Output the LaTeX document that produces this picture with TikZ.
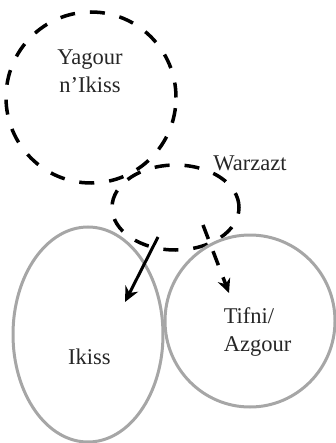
\documentclass[tikz,border=0pt]{standalone}
\usepackage{fontspec}
\setmainfont{Liberation Serif}
\usetikzlibrary{shapes.geometric,arrows.meta}

\tikzset{
  zone/.style={draw=black!35, line width=3pt, ellipse, inner sep=0pt},
  dzone/.style={draw=black, line width=3.5pt, dash pattern=on 15pt off 15pt, ellipse, inner sep=0pt},
  lbl/.style={font=\fontsize{22.5}{28}\selectfont, text=black!85},
}

\begin{document}
\begin{tikzpicture}[x=1pt, y=-1pt]

    \useasboundingbox (0,0) rectangle (336,443);

    \node[dzone, minimum width=170pt, minimum height=171pt] (yag) at (91, 97.5) {};
    \node[dzone, minimum width=127pt, minimum height=85pt] (warz) at (175.5, 207.5) {};
    \node[zone, minimum width=150pt, minimum height=215pt] (ik) at (88, 334.5) {};
    \node[zone, minimum width=170pt, minimum height=172pt] (tif) at (250, 321) {};

    \node[lbl, align=center] (tyag) at (90, 71.5) {Yagour\\n’Ikiss};
    \node[lbl] (twarz) at (250, 163.5) {Warzazt};
    \node[lbl] (tik) at (89.5, 357) {Ikiss};
    \node[lbl, align=left] (ttif) at (257.5, 332) {Tifni/\\Azgour};

    \coordinate (a1) at (158, 237);
    \coordinate (b1) at (125, 302);
    \coordinate (a2) at (203, 225);
    \coordinate (b2) at (229, 293);

    \draw [-{Stealth[length=15pt,width=14pt]}, line width=3pt] (a1) -- (b1);
    \draw [-{Stealth[length=14pt,width=13pt]}, line width=3.5pt, dash pattern=on 15pt off 13pt] (a2) -- (b2);

\end{tikzpicture}
\end{document}
